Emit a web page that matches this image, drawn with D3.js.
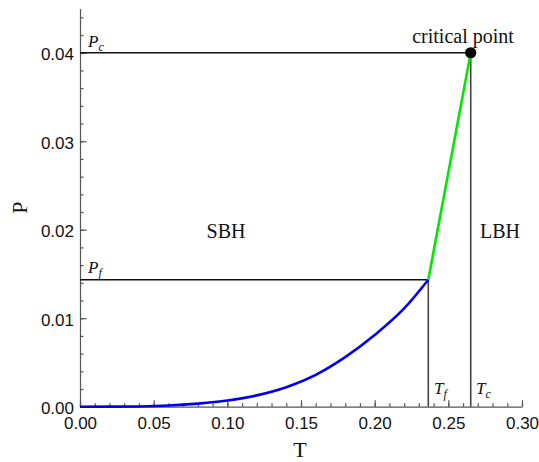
<!DOCTYPE html>
<html>
<head>
<meta charset="utf-8">
<script src="https://cdn.jsdelivr.net/npm/d3@7"></script>
<style>
body { margin: 0; background: #fff; }
.tick text { font-family: "Liberation Sans", Arial, sans-serif; font-size: 17px; fill: #111; }
.axis path, .axis line { stroke: #555; stroke-width: 1.2; }
.serif { font-family: "Liberation Serif", "Times New Roman", serif; fill: #111; }
</style>
</head>
<body>
<svg id="chart" width="539" height="462"></svg>
<script>
// coexistence curve (SBH / LBH)
var coexT = [0, 0.02, 0.04, 0.06, 0.08, 0.10, 0.12, 0.14, 0.16, 0.18, 0.20, 0.22, 0.2364];
var coexP = [0, 0.000003, 0.00003, 0.00013, 0.00035, 0.0007, 0.00128, 0.0022, 0.0036, 0.0056, 0.0081, 0.0111, 0.01435];

var tf = 0.2364, pf = 0.01435;
var tc = 0.2652, pc = 0.04;

var xTicks = [0, 0.05, 0.10, 0.15, 0.20, 0.25, 0.30];
var yTicks = [0, 0.01, 0.02, 0.03, 0.04];

var x = d3.scaleLinear().domain([0, 0.30]).range([80, 522]);
var y = d3.scaleLinear().domain([0, 0.045]).range([406.7, 8.5]);

var svg = d3.select('svg#chart');

// minor ticks first so majors sit on top
svg.append('g').attr('class', 'axis')
	.attr('transform', 'translate(0,' + y(0) + ')')
	.call(d3.axisBottom(x).tickValues(d3.range(0, 0.3001, 0.01)).tickSize(-3.5).tickFormat(''))
	.select('.domain').remove();

svg.append('g').attr('class', 'axis')
	.attr('transform', 'translate(' + x(0) + ',0)')
	.call(d3.axisLeft(y).tickValues(d3.range(0, 0.0451, 0.002)).tickSize(-3.5).tickFormat(''))
	.select('.domain').remove();

svg.append('g').attr('class', 'axis')
	.attr('transform', 'translate(0,' + y(0) + ')')
	.call(d3.axisBottom(x).tickValues(xTicks).tickSize(-6.5).tickSizeOuter(0).tickPadding(10).tickFormat(d3.format('.2f')));

svg.append('g').attr('class', 'axis')
	.attr('transform', 'translate(' + x(0) + ',0)')
	.call(d3.axisLeft(y).tickValues(yTicks).tickSize(-6.5).tickSizeOuter(0).tickPadding(6).tickFormat(d3.format('.2f')))
	.selectAll('.tick text').attr('dy', '0.42em');

// guide lines
var hLines = [[0, tc, pc], [0, tf, pf]];
svg.append('g').selectAll('line').data(hLines).enter()
	.append('line')
	.attr('x1', function(d) { return x(d[0]); })
	.attr('x2', function(d) { return x(d[1]); })
	.attr('y1', function(d) { return y(d[2]); })
	.attr('y2', function(d) { return y(d[2]); })
	.attr('stroke', '#111').attr('stroke-width', 1.4);

var vLines = [[tf, pf], [tc, pc]];
svg.append('g').selectAll('line').data(vLines).enter()
	.append('line')
	.attr('x1', function(d) { return x(d[0]); })
	.attr('x2', function(d) { return x(d[0]); })
	.attr('y1', y(0))
	.attr('y2', function(d) { return y(d[1]); })
	.attr('stroke', '#444').attr('stroke-width', 1.6);

// curves
var line = d3.line()
	.x(function(d) { return x(d[0]); })
	.y(function(d) { return y(d[1]); });

svg.append('path')
	.datum(coexT.map(function(t, i) { return [t, coexP[i]]; }))
	.attr('d', line.curve(d3.curveMonotoneX))
	.attr('fill', 'none').attr('stroke', '#0000f0').attr('stroke-width', 2.6);

svg.append('path')
	.datum([[tf, pf], [tc, pc]])
	.attr('d', line.curve(d3.curveLinear))
	.attr('fill', 'none').attr('stroke', '#00e800').attr('stroke-width', 2.6);

svg.append('circle')
	.attr('cx', x(tc)).attr('cy', y(pc)).attr('r', 5.6)
	.attr('fill', '#000');

// text
var sub = function(g, px, py, main, s) {
	var t = g.append('text').attr('class', 'serif').attr('x', px).attr('y', py)
		.style('font-style', 'italic').style('font-size', '17px');
	t.append('tspan').text(main);
	t.append('tspan').attr('dy', 4).style('font-size', '12px').text(s);
};

sub(svg, 88, 47, 'P', 'c');
sub(svg, 88, 273, 'P', 'f');
sub(svg, 434, 394, 'T', 'f');
sub(svg, 476, 394, 'T', 'c');

svg.append('text').attr('class', 'serif').attr('x', 226).attr('y', 238)
	.attr('text-anchor', 'middle').style('font-size', '20px').text('SBH');
svg.append('text').attr('class', 'serif').attr('x', 500).attr('y', 238)
	.attr('text-anchor', 'middle').style('font-size', '20px').text('LBH');
svg.append('text').attr('class', 'serif').attr('x', 463).attr('y', 43)
	.attr('text-anchor', 'middle').style('font-size', '20px').text('critical point');

svg.append('text').attr('class', 'serif').attr('x', 300).attr('y', 457)
	.attr('text-anchor', 'middle').style('font-size', '22px').text('T');
svg.append('text').attr('class', 'serif')
	.attr('transform', 'translate(27,207.5) rotate(-90)')
	.attr('text-anchor', 'middle').style('font-size', '22px').text('P');
</script>
</body>
</html>
